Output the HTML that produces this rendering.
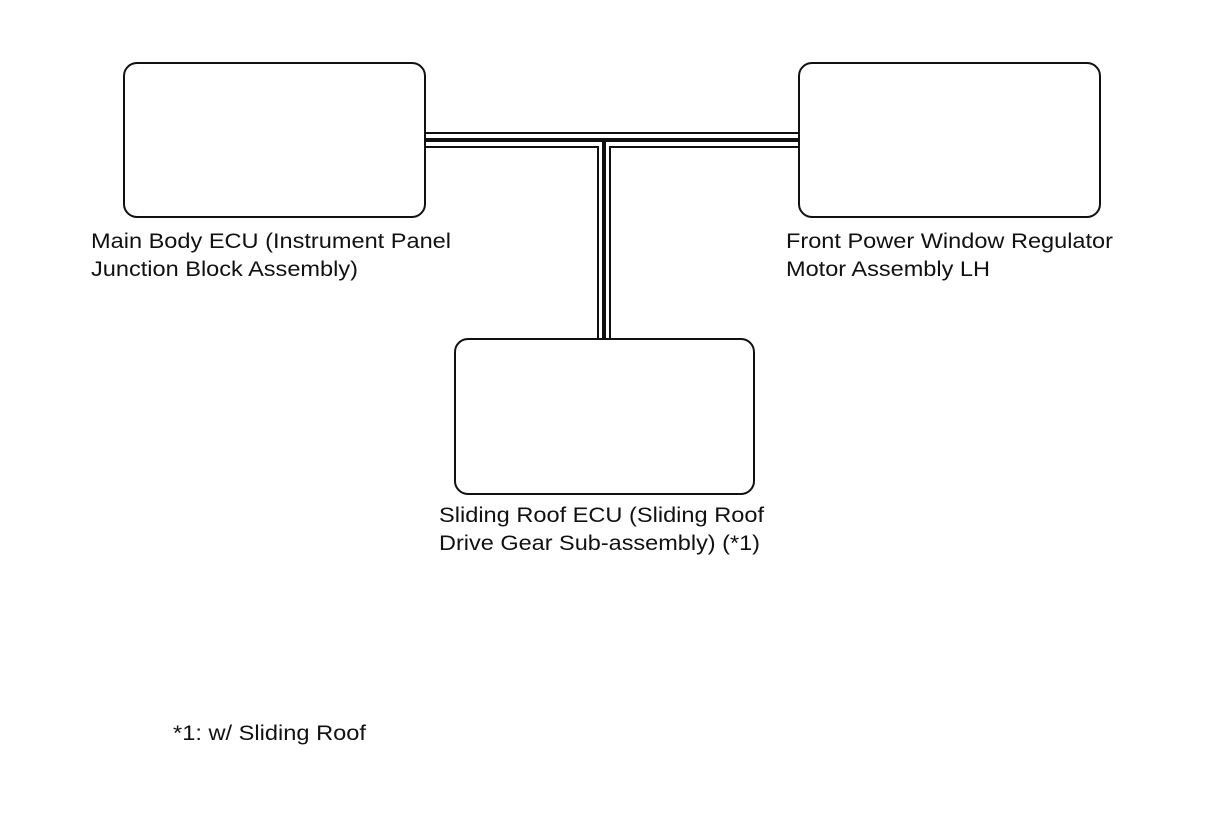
<!DOCTYPE html>
<html><head><style>html,body{margin:0;padding:0;background:#fff}svg{display:block}</style></head>
<body>
<svg width="1210" height="814" xmlns="http://www.w3.org/2000/svg" font-family="Liberation Sans, Arial, sans-serif" font-size="21" fill="#111">
<g fill="none" stroke="#111" stroke-width="2">
<rect x="124" y="63" width="301" height="154" rx="13"/>
<rect x="799" y="63" width="301" height="154" rx="13"/>
<rect x="455" y="339" width="299" height="155" rx="13"/>
</g>
<g stroke="#111" fill="none">
<line x1="425" y1="133" x2="799" y2="133" stroke-width="2"/>
<line x1="425" y1="140" x2="799" y2="140" stroke-width="4"/>
<line x1="425" y1="147" x2="598" y2="147" stroke-width="2"/>
<line x1="610" y1="147" x2="799" y2="147" stroke-width="2"/>
<line x1="598" y1="146" x2="598" y2="339" stroke-width="2"/>
<line x1="604" y1="140" x2="604" y2="339" stroke-width="4"/>
<line x1="610" y1="146" x2="610" y2="339" stroke-width="2"/>
</g>
<g lengthAdjust="spacingAndGlyphs">
<text x="91" y="248" textLength="360" lengthAdjust="spacingAndGlyphs">Main Body ECU (Instrument Panel</text>
<text x="91" y="276" textLength="267" lengthAdjust="spacingAndGlyphs">Junction Block Assembly)</text>
<text x="786" y="248" textLength="327" lengthAdjust="spacingAndGlyphs">Front Power Window Regulator</text>
<text x="786" y="276" textLength="204" lengthAdjust="spacingAndGlyphs">Motor Assembly LH</text>
<text x="439" y="522" textLength="325" lengthAdjust="spacingAndGlyphs">Sliding Roof ECU (Sliding Roof</text>
<text x="439" y="550" textLength="321" lengthAdjust="spacingAndGlyphs">Drive Gear Sub-assembly) (*1)</text>
<text x="173" y="740" textLength="193" lengthAdjust="spacingAndGlyphs">*1: w/ Sliding Roof</text>
</g>
</svg>
</body></html>
